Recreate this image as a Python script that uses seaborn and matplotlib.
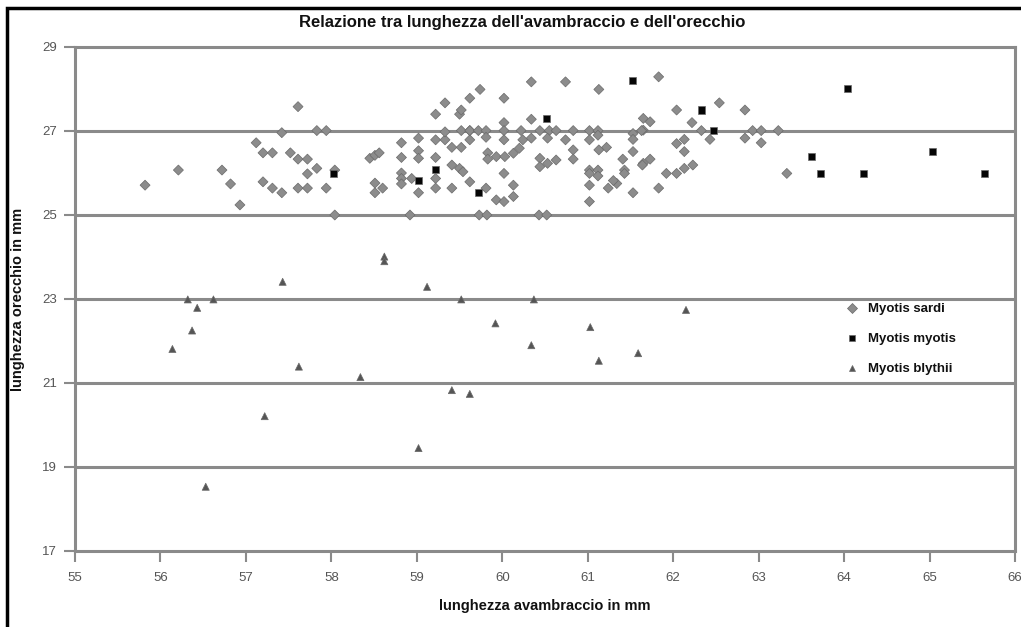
import pandas as pd
import matplotlib.pyplot as plt
import seaborn as sns
from matplotlib.patches import Rectangle

# Myotis sardi: forearm length (x) and ear length (y)
sardi_x = [55.82, 56.21, 56.72, 56.82, 56.93, 57.12, 57.20, 57.31, 57.20, 57.31,
           57.42, 57.42, 57.52, 57.61, 57.72, 57.61, 57.61, 57.72, 57.72, 57.83,
           57.83, 57.94, 57.94, 58.04, 58.04, 58.45, 58.51, 58.56, 58.51, 58.51,
           58.60, 58.82, 58.82, 58.82, 58.82, 58.82, 58.92, 58.94, 59.02, 59.02,
           59.02, 59.02, 59.22, 59.33, 59.22, 59.33, 59.33, 59.22, 59.22, 59.22,
           59.41, 59.52, 59.62, 59.41, 59.50, 59.54, 59.62, 59.41, 59.50, 59.52,
           59.62, 59.62, 59.74, 59.52, 59.62, 59.72, 59.81, 59.81, 59.73, 59.82,
           59.81, 59.83, 59.83, 59.93, 60.03, 60.13, 60.20, 60.02, 60.02, 60.02,
           60.02, 60.02, 59.93, 60.02, 60.13, 60.13, 60.22, 60.24, 60.34, 60.34,
           60.34, 60.44, 60.55, 60.63, 60.53, 60.44, 60.44, 60.53, 60.63, 60.43,
           60.52, 60.74, 60.74, 60.83, 60.83, 60.83, 61.02, 61.12, 61.02, 61.12,
           61.02, 61.12, 61.12, 61.02, 61.02, 61.02, 61.13, 61.22, 61.13, 61.24,
           61.34, 61.43, 61.43, 61.53, 61.53, 61.53, 61.65, 61.65, 61.65, 61.83,
           61.73, 61.63, 61.53, 61.41, 61.64, 61.73, 61.30, 61.83, 62.04, 62.22,
           62.54, 62.33, 62.43, 62.04, 62.13, 62.13, 62.23, 62.13, 62.04, 61.92,
           62.84, 62.84, 62.93, 63.03, 63.23, 63.03, 63.33]
sardi_y = [25.71, 26.07, 26.07, 25.74, 25.24, 26.72, 26.48, 26.48, 25.79, 25.64,
           25.53, 26.96, 26.48, 26.33, 26.33, 27.58, 25.64, 25.64, 25.98, 26.11,
           27.01, 27.01, 25.64, 26.07, 25.00, 26.35, 26.42, 26.48, 25.76, 25.53,
           25.64, 26.72, 26.37, 26.00, 25.87, 25.74, 25.00, 25.87, 26.83, 26.53,
           26.35, 25.53, 27.40, 27.67, 26.79, 26.79, 26.98, 26.37, 25.87, 25.64,
           26.61, 26.61, 26.79, 26.19, 26.11, 26.03, 25.79, 25.64, 27.40, 27.50,
           27.78, 27.01, 27.99, 27.01, 27.01, 27.01, 27.01, 26.85, 25.00, 25.00,
           25.64, 26.48, 26.33, 26.39, 26.39, 26.47, 26.59, 27.78, 27.20, 27.01,
           26.79, 25.99, 25.36, 25.32, 25.44, 25.71, 27.01, 26.79, 26.83, 28.17,
           27.28, 27.01, 27.01, 27.01, 26.83, 26.35, 26.15, 26.23, 26.31, 25.00,
           25.00, 28.17, 26.79, 27.01, 26.55, 26.33, 27.01, 27.01, 26.79, 26.90,
           26.07, 26.07, 25.93, 25.99, 25.71, 25.32, 27.99, 26.61, 26.55, 25.64,
           25.75, 26.07, 25.99, 26.51, 26.94, 25.53, 27.30, 27.02, 26.23, 28.29,
           27.22, 27.01, 26.80, 26.33, 26.19, 26.33, 25.82, 25.64, 27.50, 27.20,
           27.67, 27.01, 26.80, 26.70, 26.80, 26.51, 26.19, 26.11, 25.99, 25.99,
           27.50, 26.83, 27.01, 27.01, 27.01, 26.72, 25.99]

# Myotis myotis
myotis_x = [58.02, 59.02, 59.22, 59.72, 60.52, 61.52, 62.33, 62.47, 63.62, 63.72,
            64.04, 64.23, 65.03, 65.64]
myotis_y = [25.99, 25.82, 26.09, 25.53, 27.30, 28.20, 27.50, 27.02, 26.39, 25.99,
            28.02, 25.99, 26.51, 25.99]

# Myotis blythii
blythii_x = [58.62, 58.62, 57.43, 59.12, 56.32, 56.43, 56.62, 59.52, 60.37, 56.37,
             56.14, 59.92, 61.03, 60.34, 61.13, 61.59, 62.15, 57.62, 58.34, 59.41,
             59.62, 57.22, 59.02, 56.53]
blythii_y = [24.01, 23.90, 23.41, 23.29, 22.99, 22.79, 22.99, 22.99, 22.99, 22.25,
             21.81, 22.42, 22.33, 21.90, 21.53, 21.71, 22.74, 21.39, 21.14, 20.83,
             20.74, 20.21, 19.45, 18.53]

species = ["Myotis sardi", "Myotis myotis", "Myotis blythii"]
x_ticks = list(range(55, 67))
y_ticks = list(range(17, 30, 2))

df = pd.DataFrame({
    "avambraccio": sardi_x + myotis_x + blythii_x,
    "orecchio": sardi_y + myotis_y + blythii_y,
    "specie": [species[0]] * len(sardi_x) + [species[1]] * len(myotis_x)
              + [species[2]] * len(blythii_x),
})

sns.set_style("white")
plt.rcParams["font.family"] = ["Liberation Sans", "DejaVu Sans"]

fig = plt.figure(figsize=(10.21, 6.27), dpi=100)
ax = fig.add_axes([75 / 1021, 1 - 551 / 627, 940 / 1021, 504 / 627])

grid_col = "#8a8a8a"
for yv in y_ticks[1:-1]:
    ax.axhline(yv, color=grid_col, lw=2.2, zorder=0)

sns.scatterplot(data=df, x="avambraccio", y="orecchio", hue="specie", style="specie",
                hue_order=species, style_order=species,
                palette={species[0]: "#8c8c8c", species[1]: "#050505", species[2]: "#555555"},
                markers={species[0]: "D", species[1]: "s", species[2]: "^"},
                s=26, edgecolor="#6a6a6a", linewidth=0.5, ax=ax, zorder=3)

ax.set_xlim(55, 66)
ax.set_ylim(17, 29)
ax.set_xticks(x_ticks)
ax.set_yticks(y_ticks)
ax.tick_params(axis="both", which="both", direction="out", length=8, width=1.5,
               color=grid_col, labelsize=9.5, labelcolor="#555555",
               left=True, bottom=True)
ax.tick_params(axis="x", pad=7)
ax.tick_params(axis="y", pad=5)
for side in ["left", "bottom", "top", "right"]:
    ax.spines[side].set_color(grid_col)
    ax.spines[side].set_linewidth(2.2)

ax.set_xlabel("lunghezza avambraccio in mm", fontsize=10.5, fontweight="bold",
              color="#111111", labelpad=11)
ax.set_ylabel("lunghezza orecchio in mm", fontsize=10.5, fontweight="bold",
              color="#111111", labelpad=12)

fig.text(522 / 1021, 1 - 22 / 627, "Relazione tra lunghezza dell'avambraccio e dell'orecchio",
         ha="center", va="center", fontsize=12, fontweight="bold", color="#111111")

leg = ax.legend(loc="center left", bbox_to_anchor=(0.80, 0.42), frameon=False,
                prop={"size": 9.5, "weight": "bold"}, labelspacing=1.35,
                handletextpad=0.2, markerscale=0.9)
for t in leg.get_texts():
    t.set_color("#111111")

# outer chart frame
fig.add_artist(Rectangle((7 / 1021, -0.05), 1.2, 1 - 8 / 627 + 0.05, transform=fig.transFigure,
                         fill=False, edgecolor="black", lw=2.5))

plt.savefig("out.png", dpi=100)
